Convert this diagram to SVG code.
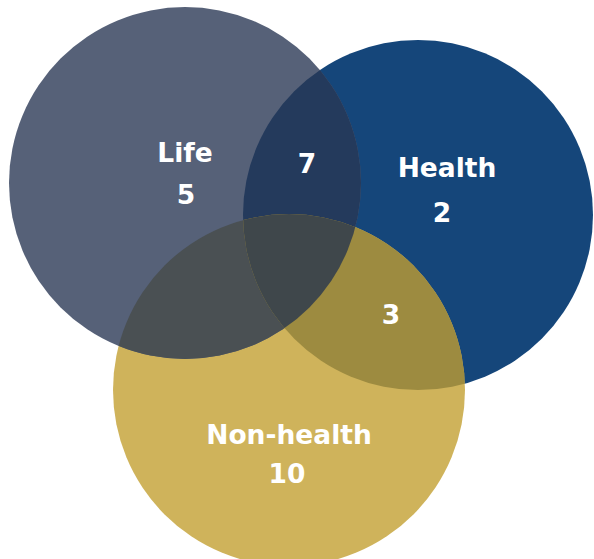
<svg xmlns="http://www.w3.org/2000/svg" width="594" height="559" viewBox="0 0 594 559">
<style>
.lbl{font-family:"DejaVu Sans","Verdana",sans-serif;font-weight:bold;font-size:26.5px;fill:#ffffff;text-anchor:middle}
</style>
<defs>
<circle id="cL" cx="185" cy="183" r="176"/>
<circle id="cH" cx="418" cy="215" r="175"/>
<circle id="cN" cx="289" cy="390" r="176"/>
<clipPath id="clipL"><use href="#cL"/></clipPath>
<clipPath id="clipH"><use href="#cH"/></clipPath>
<clipPath id="clipN"><use href="#cN"/></clipPath>
</defs>
<g id="circles">
<use href="#cH" fill="#15467a"/>
<use href="#cN" fill="#cfb35b"/>
<use href="#cL" fill="#566178"/>
</g>
<g id="overlaps">
<g clip-path="url(#clipL)"><use href="#cH" fill="#243a5c"/></g>
<g clip-path="url(#clipL)"><use href="#cN" fill="#4a5053"/></g>
<g clip-path="url(#clipH)"><use href="#cN" fill="#9d8b40"/></g>
<g clip-path="url(#clipL)"><g clip-path="url(#clipH)"><use href="#cN" fill="#3f474b"/></g></g>
</g>
<g id="life"><text class="lbl" x="185" y="162">Life</text><text class="lbl" x="186" y="204">5</text></g>
<g id="health"><text class="lbl" x="447" y="177">Health</text><text class="lbl" x="442" y="222">2</text></g>
<g id="nonhealth"><text class="lbl" x="289" y="444">Non-health</text><text class="lbl" x="287" y="483">10</text></g>
<g id="life-health"><text class="lbl" x="307" y="173">7</text></g>
<g id="health-nonhealth"><text class="lbl" x="391" y="324">3</text></g>
</svg>
